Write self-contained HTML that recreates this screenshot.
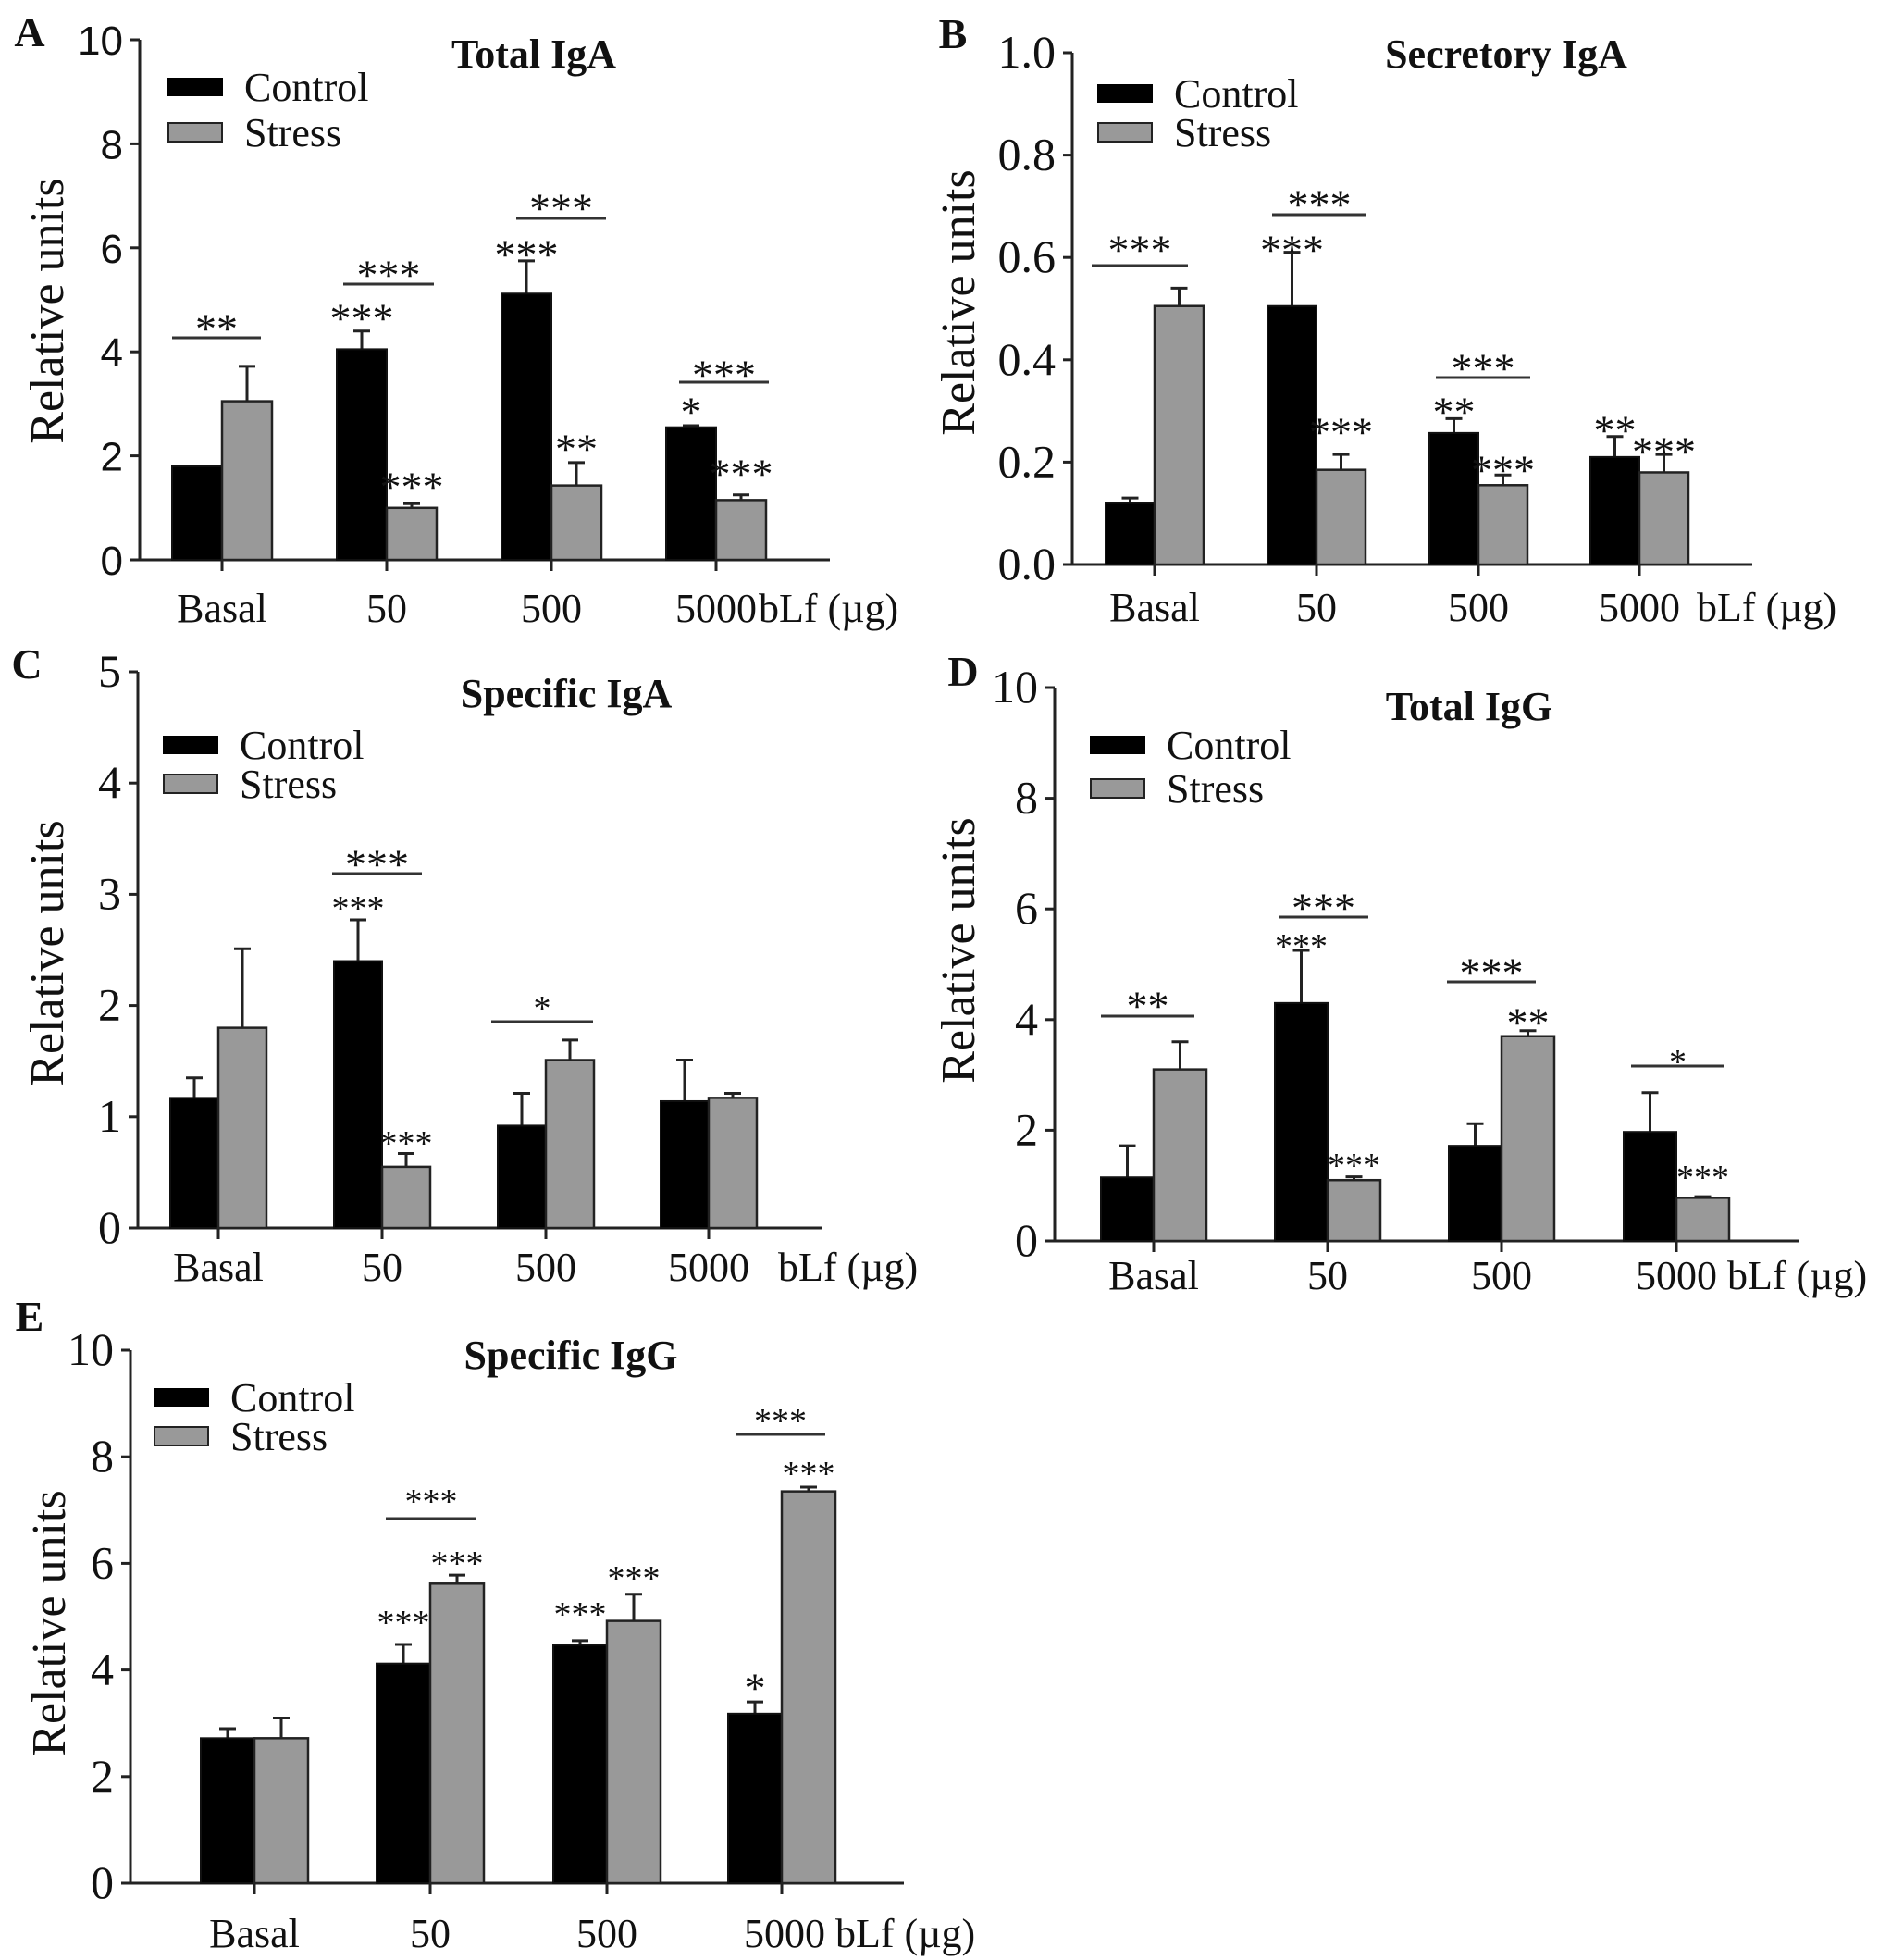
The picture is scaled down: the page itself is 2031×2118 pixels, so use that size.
<!DOCTYPE html>
<html><head><meta charset="utf-8">
<style>
html,body{margin:0;padding:0;background:#fff;}
svg{display:block;}
text{font-family:"Liberation Serif",serif;fill:#111;}
.sans{font-family:"Liberation Sans",sans-serif;}
.serif{font-family:"Liberation Serif",serif;}
</style></head>
<body>
<svg id="fig" width="2031" height="2118" viewBox="0 0 2031 2118" xmlns="http://www.w3.org/2000/svg"></svg>
<script>
// ---------- DATA ----------
const categories = ["Basal","50","500","5000"];
// Panel A Total IgA
const ctrlA = [1.8, 4.05, 5.12, 2.55];
const ctrlErrA = [1.8, 4.4, 5.75, 2.58];
const stressA = [3.05, 1.0, 1.43, 1.15];
const stressErrA = [3.72, 1.08, 1.87, 1.25];
const ticksA = [0,2,4,6,8,10];
const tickLabelsA = ["0","2","4","6","8","10"];
// Panel B Secretory IgA
const ctrlB = [0.12, 0.505, 0.257, 0.21];
const ctrlErrB = [0.13, 0.61, 0.285, 0.25];
const stressB = [0.505, 0.185, 0.155, 0.18];
const stressErrB = [0.54, 0.215, 0.175, 0.215];
const ticksB = [0,0.2,0.4,0.6,0.8,1.0];
const tickLabelsB = ["0.0","0.2","0.4","0.6","0.8","1.0"];
// Panel C Specific IgA
const ctrlC = [1.17, 2.4, 0.92, 1.14];
const ctrlErrC = [1.35, 2.77, 1.21, 1.51];
const stressC = [1.8, 0.55, 1.51, 1.17];
const stressErrC = [2.51, 0.67, 1.69, 1.21];
const ticksC = [0,1,2,3,4,5];
const tickLabelsC = ["0","1","2","3","4","5"];
// Panel D Total IgG
const ctrlD = [1.15, 4.3, 1.72, 1.97];
const ctrlErrD = [1.72, 5.25, 2.12, 2.68];
const stressD = [3.1, 1.1, 3.7, 0.78];
const stressErrD = [3.6, 1.16, 3.8, 0.8];
const ticksD = [0,2,4,6,8,10];
const tickLabelsD = ["0","2","4","6","8","10"];
// Panel E Specific IgG
const ctrlE = [2.72, 4.12, 4.47, 3.18];
const ctrlErrE = [2.9, 4.48, 4.55, 3.4];
const stressE = [2.72, 5.62, 4.92, 7.35];
const stressErrE = [3.1, 5.78, 5.42, 7.43];
const ticksE = [0,2,4,6,8,10];
const tickLabelsE = ["0","2","4","6","8","10"];

// ---------- LAYOUT ----------
const NS = "http://www.w3.org/2000/svg";
const svg = document.getElementById("fig");
function mk(tag, attrs, parent){
  const e = document.createElementNS(NS, tag);
  for (const k in attrs) e.setAttribute(k, attrs[k]);
  (parent||svg).appendChild(e);
  return e;
}

const panels = [
 {id:"a", letter:"A", lx:32, ly:50, title:"Total IgA", tx:577, ty:73,
  ax:151, yTop:43, yBot:605, xEnd:897, max:10, centers:[240,418,596,774], bw:54,
  ctrl:ctrlA, ctrlErr:ctrlErrA, stress:stressA, stressErr:stressErrA, ticks:ticksA, tickLabels:tickLabelsA, sans:true,
  legX:181, legC:94, legS:143, labelY:672, blfX:820, ylab:[51,336],
  brackets:[[186,282,365,"**",345,46],[371,469,307,"***",287,46],[558,655,236,"***",215,46],[734,831,413,"***",395,46]],
  marks:[[1,0,334,"***",46],[1,1,516,"***",46],[2,0,265,"***",46],[2,1,475,"**",46],[3,0,435,"*",46],[3,1,502,"***",46]]},
 {id:"b", letter:"B", lx:1030, ly:52, title:"Secretory IgA", tx:1628, ty:73,
  ax:1159, yTop:57, yBot:610, xEnd:1894, max:1.0, centers:[1248,1423,1598,1772], bw:53,
  ctrl:ctrlB, ctrlErr:ctrlErrB, stress:stressB, stressErr:stressErrB, ticks:ticksB, tickLabels:tickLabelsB, sans:false,
  legX:1186, legC:101, legS:143, labelY:671, blfX:1834, ylab:[1036,327],
  brackets:[[1180,1284,287,"***",260,46],[1375,1477,232,"***",211,46],[1552,1654,408,"***",388,46]],
  marks:[[1,0,260,"***",46],[1,1,457,"***",46],[2,0,435,"**",46],[2,1,498,"***",46],[3,0,455,"**",46],[3,1,478,"***",46]]},
 {id:"c", letter:"C", lx:29, ly:733, title:"Specific IgA", tx:612, ty:764,
  ax:149, yTop:726, yBot:1327, xEnd:888, max:5, centers:[236,413,590,766], bw:52,
  ctrl:ctrlC, ctrlErr:ctrlErrC, stress:stressC, stressErr:stressErrC, ticks:ticksC, tickLabels:tickLabelsC, sans:false,
  legX:176, legC:805, legS:847, labelY:1384, blfX:841, ylab:[51,1030],
  brackets:[[359,456,944,"***",924,46],[531,641,1104,"*",1081,38]],
  marks:[[1,0,973,"***",38],[1,1,1227,"***",38]]},
 {id:"d", letter:"D", lx:1041, ly:741, title:"Total IgG", tx:1588, ty:778,
  ax:1140, yTop:743, yBot:1341, xEnd:1945, max:10, centers:[1247,1435,1623,1812], bw:57,
  ctrl:ctrlD, ctrlErr:ctrlErrD, stress:stressD, stressErr:stressErrD, ticks:ticksD, tickLabels:tickLabelsD, sans:false,
  legX:1178, legC:805, legS:852, labelY:1393, blfX:1867, ylab:[1036,1027],
  brackets:[[1190,1291,1098,"**",1077,46],[1382,1479,991,"***",971,46],[1564,1660,1061,"***",1041,46],[1763,1864,1152,"*",1139,38]],
  marks:[[1,0,1014,"***",38],[1,1,1251,"***",38],[2,1,1095,"**",46],[3,1,1264,"***",38]]},
 {id:"e", letter:"E", lx:32, ly:1438, title:"Specific IgG", tx:617, ty:1479,
  ax:141, yTop:1459, yBot:2035, xEnd:977, max:10, centers:[275,465,656,845], bw:58,
  ctrl:ctrlE, ctrlErr:ctrlErrE, stress:stressE, stressErr:stressErrE, ticks:ticksE, tickLabels:tickLabelsE, sans:false,
  legX:166, legC:1510, legS:1552, labelY:2104, blfX:null, ylab:[53,1754],
  brackets:[[417,515,1641,"***",1614,38],[795,892,1550,"***",1527,38]],
  marks:[[1,0,1745,"***",38],[1,1,1681,"***",38],[2,0,1736,"***",38],[2,1,1697,"***",38],[3,0,1814,"*",46],[3,1,1584,"***",38]]}
];

panels.forEach(p => {
  const g = mk("g", {});
  
  
  const yS = v => p.yBot - (v / p.max) * (p.yBot - p.yTop);

  const letter = mk("text", {x:p.lx, y:p.ly, "font-size":46, "font-weight":"bold", "text-anchor":"middle"}, g);
  letter.textContent = p.letter;
  
  

  const title = mk("text", {x:p.tx, y:p.ty, "font-size":44, "font-weight":"bold", "text-anchor":"middle"}, g);
  title.textContent = p.title;
  
  

  const yAxis = mk("line", {x1:p.ax, y1:p.yTop, x2:p.ax, y2:p.yBot+1, stroke:"#222", "stroke-width":3}, g);
  
  
  p.ticks.forEach((t, i) => {
    const y = yS(t);
    const tk = mk("line", {x1:p.ax-10, y1:y, x2:p.ax, y2:y, stroke:"#222", "stroke-width":3}, g);
    
    
    const tl = mk("text", {x:p.ax-18, y:y+16, "font-size":p.sans?44:50, "text-anchor":"end", class:p.sans?"sans":"serif"}, g);
    tl.textContent = p.tickLabels[i];
    
    
  });
  const yl = mk("text", {x:0, y:0, "font-size":52, "text-anchor":"middle", transform:`translate(${p.ylab[0]+17},${p.ylab[1]}) rotate(-90)`}, g);
  yl.textContent = "Relative units";
  
  

  const xAxis = mk("line", {x1:p.ax, y1:p.yBot, x2:p.xEnd, y2:p.yBot, stroke:"#222", "stroke-width":3}, g);
  
  

  categories.forEach((c, i) => {
    const cx = p.centers[i];
    const yc = yS(p.ctrl[i]), ys = yS(p.stress[i]);
    const eb1 = mk("line", {x1:cx-p.bw/2, y1:yS(p.ctrlErr[i]), x2:cx-p.bw/2, y2:yc, stroke:"#222", "stroke-width":3}, g);
    
    
    const cap1 = mk("line", {x1:cx-p.bw/2-9, y1:yS(p.ctrlErr[i]), x2:cx-p.bw/2+9, y2:yS(p.ctrlErr[i]), stroke:"#222", "stroke-width":3}, g);
    
    
    const eb2 = mk("line", {x1:cx+p.bw/2, y1:yS(p.stressErr[i]), x2:cx+p.bw/2, y2:ys, stroke:"#222", "stroke-width":3}, g);
    
    
    const cap2 = mk("line", {x1:cx+p.bw/2-9, y1:yS(p.stressErr[i]), x2:cx+p.bw/2+9, y2:yS(p.stressErr[i]), stroke:"#222", "stroke-width":3}, g);
    
    
    const bc = mk("rect", {x:cx-p.bw, y:yc, width:p.bw, height:p.yBot-yc, fill:"#000", stroke:"#111", "stroke-width":2}, g);
    
    
    const bs = mk("rect", {x:cx, y:ys, width:p.bw, height:p.yBot-ys, fill:"#999", stroke:"#222", "stroke-width":2.5}, g);
    
    
    const xt = mk("line", {x1:cx, y1:p.yBot, x2:cx, y2:p.yBot+12, stroke:"#222", "stroke-width":3}, g);
    
    
    const isLast = i === categories.length - 1;
    const lab = mk("text", {x:(p.id==="e"&&isLast)?804:cx, y:p.labelY, "font-size":44, "text-anchor":(p.id==="e"&&isLast)?"start":"middle"}, g);
    lab.textContent = (p.id==="e"&&isLast) ? c + " bLf (\u00b5g)" : c;
    
    
  });
  if (p.blfX) {
    const bl = mk("text", {x:p.blfX, y:p.labelY, "font-size":44}, g);
    bl.textContent = "bLf (\u00b5g)";
    
    
  }

  const l1 = mk("rect", {x:p.legX, y:p.legC-10, width:60, height:20, fill:"#000"}, g);
  
  
  const t1 = mk("text", {x:p.legX+83, y:p.legC+15, "font-size":44}, g);
  t1.textContent = "Control";
  
  
  const l2 = mk("rect", {x:p.legX+1, y:p.legS-10, width:58, height:20, fill:"#999", stroke:"#222", "stroke-width":2}, g);
  
  
  const t2 = mk("text", {x:p.legX+83, y:p.legS+15, "font-size":44}, g);
  t2.textContent = "Stress";
  
  

  p.brackets.forEach(b => {
    const ln = mk("line", {x1:b[0], y1:b[2], x2:b[1], y2:b[2], stroke:"#333", "stroke-width":3}, g);
    
    
    const st = mk("text", {x:(b[0]+b[1])/2, y:b[4]+b[5]*0.55, "font-size":b[5], "text-anchor":"middle"}, g);
    st.textContent = b[3];
    
    
  });
  p.marks.forEach(m => {
    const cx = p.centers[m[0]] + (m[1]===0 ? -p.bw/2 : p.bw/2);
    const st = mk("text", {x:cx, y:m[2]+m[4]*0.55, "font-size":m[4], "text-anchor":"middle"}, g);
    st.textContent = m[3];
    
    
  });
});
</script>
</body></html>
